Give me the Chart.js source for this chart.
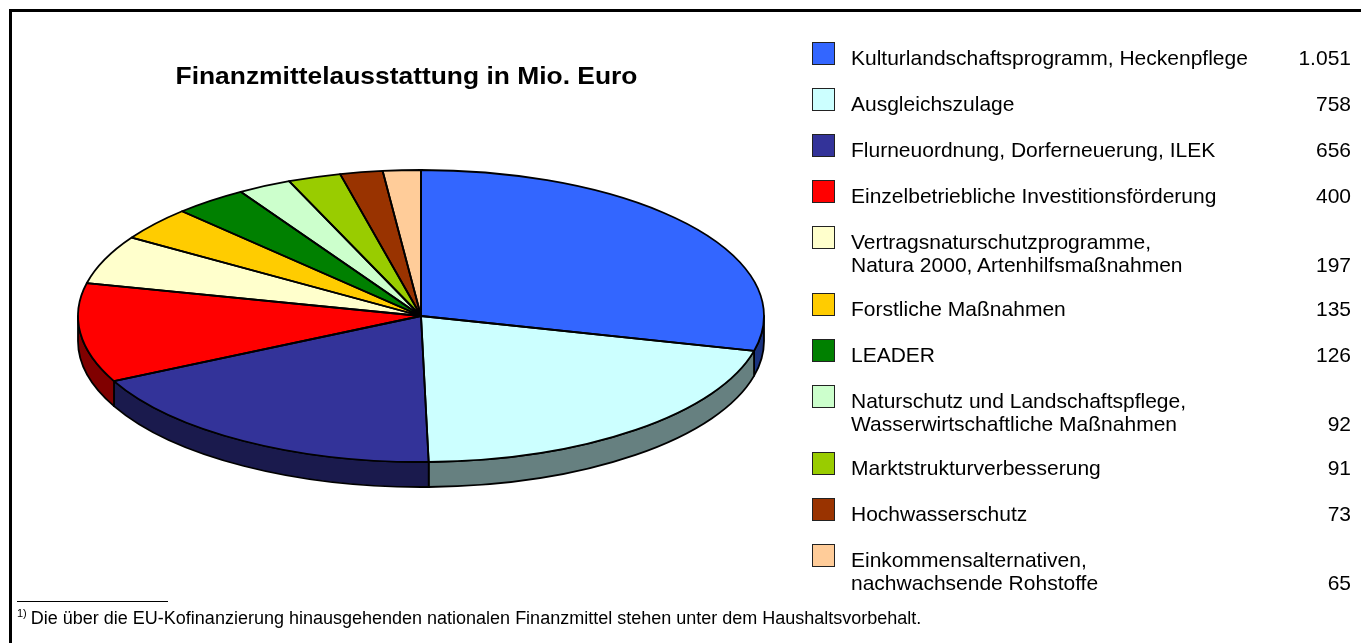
<!DOCTYPE html>
<html lang="de">
<head>
<meta charset="utf-8">
<title>Finanzmittelausstattung in Mio. Euro</title>
<script src="https://cdn.jsdelivr.net/npm/chart.js@4.4.1/dist/chart.umd.min.js"></script>
<style>
    body { margin: 0; background: #fff; font-family: Arial, "Liberation Sans", sans-serif; overflow: hidden; }
    #page { position: relative; width: 1361px; height: 643px; }
    #frame { position: absolute; left: 9px; top: 9px; width: 1400px; height: 700px; border-top: 3px solid #000; border-left: 3px solid #000; }
    #pie { position: absolute; left: 0; top: 0; }
    #title { position: absolute; left: 0; top: 64px; width: 813px; text-align: center; font-weight: bold; font-size: 24px; line-height: 24px; color: #000; transform: scaleX(1.1); transform-origin: 406.5px 0; }
    #legend { position: absolute; left: 812px; top: 46px; width: 539px; }
    .row { position: relative; }
    .swatch { position: absolute; left: 0; top: -4px; width: 21px; height: 21px; border: 1px solid #222; }
    .label { position: absolute; left: 39px; top: 0; font-size: 21px; line-height: 23px; color: #000; white-space: nowrap; }
    .value { position: absolute; right: 0; font-size: 21px; line-height: 23px; color: #000; }
    #rule { position: absolute; left: 17px; top: 601px; width: 151px; height: 1px; background: #000; }
    #note { position: absolute; left: 17px; top: 609px; font-size: 18px; line-height: 18px; color: #000; white-space: nowrap; }
    #note sup { font-size: 11px; vertical-align: 7px; line-height: 0; margin-right: 4px; }
</style>
</head>
<body>
<div id="page">
    <div id="frame"></div>
    <canvas id="pie" width="842" height="632"></canvas>
    <div id="title">Finanzmittelausstattung in Mio. Euro</div>
    <div id="legend"></div>
    <div id="rule"></div>
    <div id="note"><sup>1)</sup>Die über die EU-Kofinanzierung hinausgehenden nationalen Finanzmittel stehen unter dem Haushaltsvorbehalt.</div>
</div>

<script>
// Bereiche (Legende), zweizeilige Einträge als Listen
var bereiche = [
    ["Kulturlandschaftsprogramm, Heckenpflege"],
    ["Ausgleichszulage"],
    ["Flurneuordnung, Dorferneuerung, ILEK"],
    ["Einzelbetriebliche Investitionsförderung"],
    ["Vertragsnaturschutzprogramme,", "Natura 2000, Artenhilfsmaßnahmen"],
    ["Forstliche Maßnahmen"],
    ["LEADER"],
    ["Naturschutz und Landschaftspflege,", "Wasserwirtschaftliche Maßnahmen"],
    ["Marktstrukturverbesserung"],
    ["Hochwasserschutz"],
    ["Einkommensalternativen,", "nachwachsende Rohstoffe"]
];

// Finanzmittel in Mio. Euro
var mittel = [1051, 758, 656, 400, 197, 135, 126, 92, 91, 73, 65];

var farben = ["#3366FF", "#CCFFFF", "#333399", "#FF0000", "#FFFFCC", "#FFCC00",
              "#008000", "#CCFFCC", "#99CC00", "#993300", "#FFCC99"];

var NEIGUNG = 0.4257;   // Verhältnis Höhe/Breite der Ellipse
var TIEFE = 25;         // Höhe des Tortenrands in px

function format(v) {
    return String(v).replace(/\B(?=(\d{3})+(?!\d))/g, ".");
}

function dunkler(hex, f) {
    var n = parseInt(hex.slice(1), 16);
    var r = Math.round(((n >> 16) & 255) * f);
    var g = Math.round(((n >> 8) & 255) * f);
    var b = Math.round((n & 255) * f);
    return "rgb(" + r + "," + g + "," + b + ")";
}

// Legende
var legend = document.getElementById("legend");
bereiche.forEach(function (zeilen, i) {
    var row = document.createElement("div");
    row.className = "row";
    row.style.height = (zeilen.length > 1 ? 67 : 46) + "px";
    var sw = document.createElement("div");
    sw.className = "swatch";
    sw.style.background = farben[i];
    var lab = document.createElement("div");
    lab.className = "label";
    lab.innerHTML = zeilen.join("<br>");
    var val = document.createElement("div");
    val.className = "value";
    val.style.top = ((zeilen.length - 1) * 23) + "px";
    val.textContent = format(mittel[i]);
    row.appendChild(sw);
    row.appendChild(lab);
    row.appendChild(val);
    legend.appendChild(row);
});

// 3D-Effekt: Ellipse + Rand
var pie3d = {
    id: "pie3d",
    beforeDatasetsDraw: function (chart) {
        var ctx = chart.ctx;
        var arcs = chart.getDatasetMeta(0).data;
        var cx = arcs[0].x, cy = arcs[0].y;
        var rx = arcs[0].outerRadius, ry = rx * NEIGUNG;

        ctx.save();
        ctx.lineWidth = 1.8;
        ctx.strokeStyle = "#000";
        ctx.lineJoin = "round";
        arcs.forEach(function (arc, i) {
            var a1 = Math.max(arc.startAngle, 0);
            var a2 = Math.min(arc.endAngle, Math.PI);
            if (a1 >= a2) return;
            ctx.beginPath();
            ctx.ellipse(cx, cy, rx, ry, 0, a1, a2);
            ctx.ellipse(cx, cy + TIEFE, rx, ry, 0, a2, a1, true);
            ctx.closePath();
            ctx.fillStyle = dunkler(farben[i], 0.5);
            ctx.fill();
            ctx.stroke();
        });
        ctx.restore();

        ctx.save();
        ctx.translate(cx, cy);
        ctx.scale(1, NEIGUNG);
        ctx.translate(-cx, -cy);
    },
    afterDatasetsDraw: function (chart) {
        var ctx = chart.ctx;
        ctx.restore();
        var arcs = chart.getDatasetMeta(0).data;
        var cx = arcs[0].x, cy = arcs[0].y;
        var rx = arcs[0].outerRadius, ry = rx * NEIGUNG;
        ctx.save();
        ctx.lineWidth = 1.8;
        ctx.strokeStyle = "#000";
        ctx.lineJoin = "round";
        arcs.forEach(function (arc) {
            ctx.beginPath();
            ctx.moveTo(cx, cy);
            ctx.ellipse(cx, cy, rx, ry, 0, arc.startAngle, arc.endAngle);
            ctx.closePath();
            ctx.stroke();
        });
        ctx.restore();
    }
};

var chart = new Chart(document.getElementById("pie"), {
    type: "pie",
    data: {
        labels: bereiche.map(function (z) { return z.join(" "); }),
        datasets: [{
            data: mittel,
            backgroundColor: farben,
            borderWidth: 0,
            clip: false
        }]
    },
    options: {
        responsive: false,
        animation: false,
        events: [],
        radius: 343,
        layout: { padding: 0 },
        plugins: {
            legend: { display: false },
            tooltip: { enabled: false }
        }
    },
    plugins: [pie3d]
});
</script>
</body>
</html>
